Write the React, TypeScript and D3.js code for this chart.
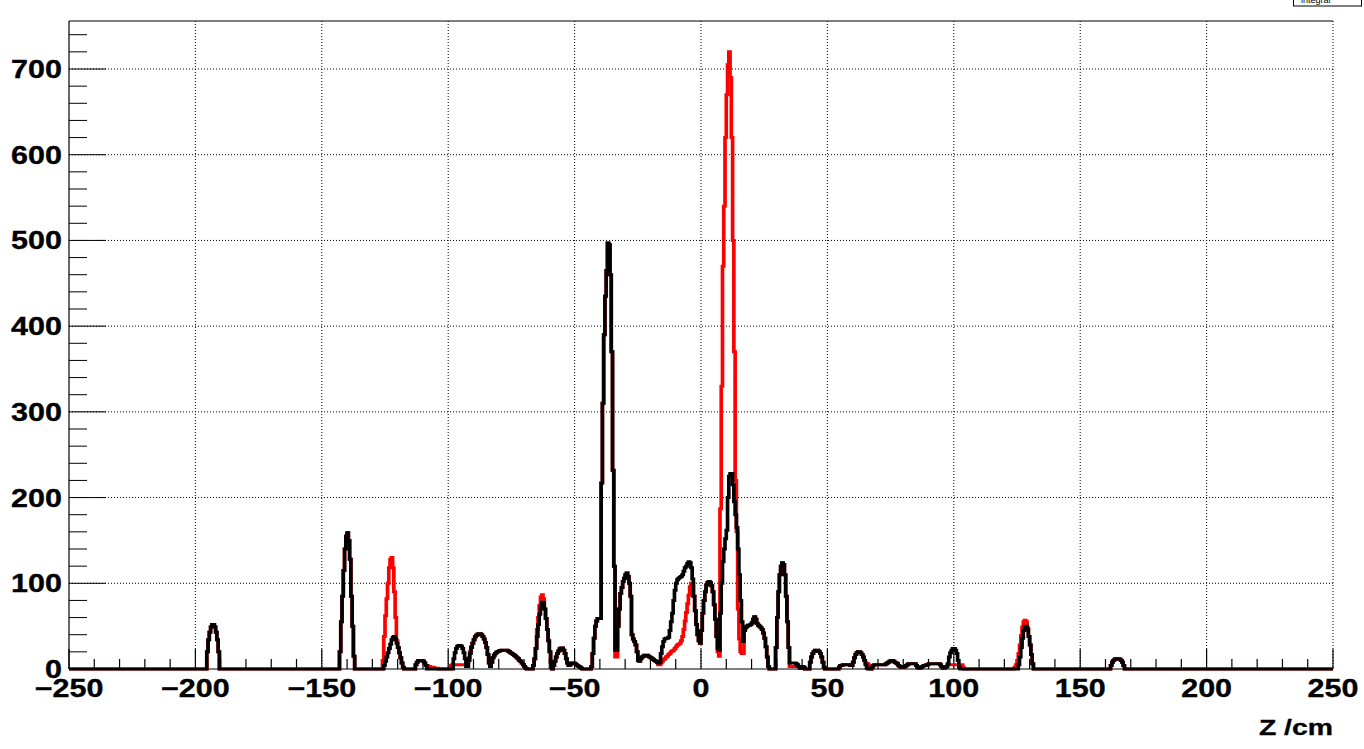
import React from "react";
import * as d3 from "d3";

// ---- axis / binning ----
const X_MIN = -250;
const X_MAX = 250;
const Y_MAX = 756;
const BIN = 0.5; // cm
const xMajorTicks = [-250, -200, -150, -100, -50, 0, 50, 100, 150, 200, 250];
const yMajorTicks = [0, 100, 200, 300, 400, 500, 600, 700];
const X_TITLE = "Z /cm";
const LEGEND_LABEL = "integral";

// ---- black histogram: [segment start (cm), bin contents every 0.5 cm] ----
const blackSegments: [number, number[]][] = [
  [-195.5, [20, 34, 43, 49, 52, 52, 49, 43, 34, 20]],
  [-143, [20, 55, 85, 115, 140, 155, 159, 150, 128, 85, 50, 15]],
  [-125.5, [4, 9, 14, 19, 24, 29, 34, 37, 38, 35, 30, 25, 19, 13, 7, 2]],
  [-113, [5, 8, 9.5, 10, 10, 10, 9, 7, 4]],
  [-98, [12, 19, 24, 26.5, 27.5, 27.5, 26.5, 24, 19, 12, 3]],
  [-92.5, [3, 10, 18, 25, 30, 34, 37.5, 39.5, 40.5, 41, 41, 40, 38, 35, 31, 25, 17, 7, 4]],
  [-83.5, [3, 8, 13, 16, 18, 19.5, 20.5, 21, 21.5, 22, 22, 22, 22, 22, 21, 20, 19, 18, 17, 16, 15, 13, 12, 10, 9, 7, 5, 3, 1]],
  [-66.5, [4, 12, 24, 38, 52, 64, 73, 78, 77, 70, 59, 46, 33, 20, 8]],
  [-58.5, [4, 9, 14, 18, 21, 23.5, 24.5, 24.5, 22, 18, 12, 7, 4, 5, 6, 7, 7, 6, 5, 4, 3, 2, 1]],
  [-43.5, [
    3, 18, 36, 50, 56, 59, 59, 59, 217, 310, 390, 435, 465, 497, 495, 460, 370, 232, 120, 22,
    22, 50, 70, 88, 95, 102, 106, 110, 112, 108, 100, 85, 40, 35, 32, 28, 20, 10, 9, 12,
    14, 15, 16, 16, 16, 15, 14, 13, 12, 11, 10, 9, 8, 7, 8, 18, 26, 32, 35, 36,
    36, 37, 45, 55, 65, 80, 92, 100, 104, 106, 107, 108, 110, 114, 118, 120, 123, 125, 124, 118,
    105, 85, 68, 52, 40, 33, 30, 45, 65, 80, 90, 98, 101, 102, 101, 97, 90, 75, 58, 38,
    24, 22, 65, 100, 125, 140, 152, 162, 200, 225, 228, 228, 215, 195, 180, 165, 140, 110, 80, 55,
    32, 45, 48, 50, 51, 51, 52, 54, 58, 61, 58, 53, 51, 50, 48, 46, 42, 36, 26, 14, 3,
  ]],
  [29.5, [25, 60, 90, 110, 120, 124, 122, 110, 85, 55, 25, 7, 7, 7, 7, 7, 6, 5, 3, 1, 1, 3, 2]],
  [43, [8, 14, 18, 20.5, 22, 22, 22, 20.5, 18, 14, 8, 2]],
  [54.5, [2, 4, 4, 5, 5, 5, 5, 5, 5, 4, 4, 8, 13, 17, 19, 20, 20, 19, 17, 14, 10, 5, 1]],
  [67.5, [
    2, 4, 5, 5, 5, 5, 5, 5, 5, 5, 5, 6, 7, 8, 9, 10, 10, 9, 8, 7,
    6, 4, 3, 2, 2, 2, 3, 4, 5, 6, 6, 6, 6, 6, 6, 4, 2, 1, 1, 2,
    3, 4, 4, 5, 5, 6, 6, 6, 6, 6, 6, 6, 6, 6, 5, 3, 1, 1, 2, 3,
    6, 14, 19, 22, 24, 24, 22, 18, 10, 2,
  ]],
  [125.5, [5, 14, 25, 36, 45, 50, 50, 46, 38, 28, 17, 6]],
  [162, [4, 8, 10, 11.5, 12, 12, 12, 11.5, 10, 8, 4]],
];

// ---- red histogram: same as black except these segments ----
const redSegments: [number, number[]][] = [
  [-126, [10, 38, 62, 82, 100, 118, 128, 130, 118, 90, 60, 33]],
  [-109, [4, 4, 3, 3, 2, 2, 2, 1, 1, 1]],
  [-99, [4, 5, 5, 5, 5, 5, 5, 5, 5, 5, 5, 5, 5, 8, 13, 20, 26]],
  [-65, [46, 60, 74, 84, 86.5, 82, 70, 59]],
  [-34, [14, 14]],
  [-17, [5, 5, 7, 9, 11, 12, 14, 15, 17, 18, 20, 21, 22, 24, 26, 28, 29, 30, 33, 38, 46, 56, 66, 76, 86, 96, 100, 100]],
  [6.5, [20, 15, 187, 330, 470, 540, 620, 670, 705, 720, 690, 620, 500, 370, 220, 160, 70, 35, 20, 18, 18]],
  [35, [3, 3, 3, 3, 3, 3, 3, 3, 1]],
  [65, [7, 6.5, 5, 2]],
  [86, [3, 3, 3]],
  [95.5, [3, 3]],
  [97.5, [5, 5, 5, 5, 5, 5, 5, 5, 5, 5, 5, 5, 2]],
  [124, [2, 5, 10, 18, 28, 39, 49, 55, 57, 55, 48, 38]],
];

const NBINS = Math.round((X_MAX - X_MIN) / BIN);

function fill(base: number[], segs: [number, number[]][]): number[] {
  const out = base.slice();
  segs.forEach(([start, vals]) => {
    const i0 = Math.round((start - X_MIN) / BIN);
    vals.forEach((v, k) => {
      if (i0 + k >= 0 && i0 + k < NBINS) out[i0 + k] = v;
    });
  });
  return out;
}

const blackBins = fill(new Array(NBINS).fill(0), blackSegments);
const redBins = fill(blackBins, redSegments);

const FONT = "'Liberation Sans', Arial, Helvetica, sans-serif";
const SX = 1.22; // the reference is rendered with a horizontal stretch

export default function App() {
  const L = 69, R = 1333, T = 21, B = 669;
  const x = d3.scaleLinear().domain([X_MIN, X_MAX]).range([L, R]);
  // x scale inside the horizontally stretched group (vertical strokes come out wider)
  const xs = d3.scaleLinear().domain([X_MIN, X_MAX]).range([L / SX, R / SX]);
  const y = d3.scaleLinear().domain([0, Y_MAX]).range([B, T]);

  const toPts = (bins: number[]): [number, number][] => {
    const pts: [number, number][] = bins.map((v, i) => [X_MIN + i * BIN, v]);
    pts.push([X_MAX, bins[bins.length - 1]]);
    return pts;
  };
  const line = d3
    .line<[number, number]>()
    .x((d) => xs(d[0]))
    .y((d) => y(d[1]))
    .curve(d3.curveStepAfter);

  const xMinor = d3.range(X_MIN, X_MAX + 1, 10).filter((v) => !xMajorTicks.includes(v));
  const yMinor = d3.range(0, Y_MAX, 20).filter((v) => !yMajorTicks.includes(v));
  const fmt = (v: number) => (v < 0 ? "\u2212" + Math.abs(v) : String(v));

  return (
    <svg
      width={1364}
      height={749}
      style={{ position: "absolute", left: 0, top: 0, background: "#fff" }}
    >
      <rect x={0} y={0} width={1364} height={749} fill="#fff" />
      {/* grid */}
      <g stroke="#000" strokeWidth={1} strokeDasharray="1,2">
        {xMajorTicks
          .filter((v) => v !== X_MIN)
          .map((v) => (
            <line key={"gx" + v} x1={x(v)} x2={x(v)} y1={T} y2={B} />
          ))}
        {yMajorTicks
          .filter((v) => v !== 0)
          .map((v) => (
            <line key={"gy" + v} x1={L} x2={R} y1={y(v)} y2={y(v)} />
          ))}
      </g>
      {/* frame top and axes */}
      <line x1={L} x2={R} y1={T} y2={T} stroke="#000" strokeWidth={1} />
      <line x1={L} x2={L} y1={T} y2={B} stroke="#000" strokeWidth={1.2} />
      <line x1={L} x2={R} y1={B} y2={B} stroke="#000" strokeWidth={1} />
      {/* ticks */}
      <g stroke="#000" strokeWidth={1.2}>
        {xMajorTicks.map((v) => (
          <line key={"xt" + v} x1={x(v)} x2={x(v)} y1={B} y2={B - 20} />
        ))}
        {xMinor.map((v) => (
          <line key={"xm" + v} x1={x(v)} x2={x(v)} y1={B} y2={B - 10} />
        ))}
      </g>
      <g stroke="#000" strokeWidth={1}>
        {yMajorTicks.map((v) => (
          <line key={"yt" + v} x1={L} x2={L + 37} y1={y(v)} y2={y(v)} />
        ))}
        {yMinor.map((v) => (
          <line key={"ym" + v} x1={L} x2={L + 18} y1={y(v)} y2={y(v)} />
        ))}
      </g>
      {/* histograms (drawn in a horizontally stretched group) */}
      <g transform={`scale(${SX},1)`}>
        <path d={line(toPts(redBins)) || ""} fill="none" stroke="#ff0000" strokeWidth={3} />
        <path d={line(toPts(blackBins)) || ""} fill="none" stroke="#000" strokeWidth={3} />
      </g>
      {/* tick labels */}
      <g fontFamily={FONT} fontWeight="bold" fontSize={25} fill="#000" stroke="#000" strokeWidth={0.35}>
        {xMajorTicks.map((v) => (
          <text key={"xl" + v} transform={`translate(${x(v)},697) scale(${SX},1)`} textAnchor="middle">
            {fmt(v)}
          </text>
        ))}
        {yMajorTicks.map((v) => (
          <text key={"yl" + v} transform={`translate(62,${y(v) + 9}) scale(${SX},1)`} textAnchor="end">
            {fmt(v)}
          </text>
        ))}
      </g>
      <text
        transform={`translate(${R},735) scale(1.32,1)`}
        textAnchor="end"
        fontFamily={FONT}
        fontWeight="bold"
        fontSize={21.5}
        stroke="#000"
        strokeWidth={0.3}
      >
        {X_TITLE}
      </text>
      {/* clipped legend box */}
      <rect x={1293.5} y={-20} width={68} height={26} fill="#fff" stroke="#000" strokeWidth={1} />
      <text x={1301} y={2.5} fontFamily={FONT} fontSize={9} fill="#000">
        {LEGEND_LABEL}
      </text>
    </svg>
  );
}
